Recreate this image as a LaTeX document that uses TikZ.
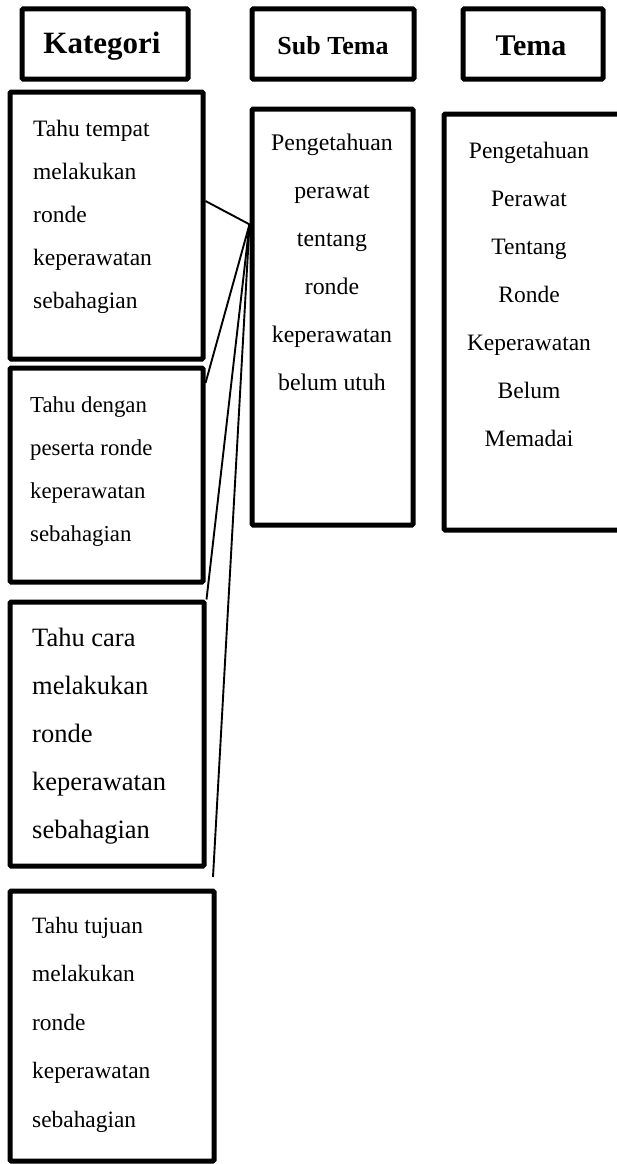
\documentclass[tikz,border=0pt]{standalone}
\usepackage{fontspec}
\setmainfont{Liberation Serif}
\usetikzlibrary{calc}
\begin{document}
\begin{tikzpicture}[x=1pt,y=-1pt,
  frame/.style={draw=black, line width=5pt, rounded corners=1.2pt, inner sep=0pt, fill=white},
  head/.style={inner sep=0pt, anchor=base, font=\bfseries\fontsize{#1}{#1}\selectfont},
  body/.style={inner sep=0pt, align=left, anchor=north west},
  cbody/.style={inner sep=0pt, align=center, anchor=north},
  link/.style={draw=black, line width=1.9pt}]
\useasboundingbox (0,0) rectangle (617,1164);
% header boxes
\node[frame, minimum width=166pt, minimum height=70pt] (hK) at (105,44) {};
\node[frame, minimum width=162pt, minimum height=70pt] (hS) at (333,44) {};
\node[frame, minimum width=140pt, minimum height=70pt] (hT) at (533,44) {};
\node[head=31] (tK) at (102,54) {Kategori};
\node[head=26] (tS) at (333,55) {Sub Tema};
\node[head=30] (tT) at (531,56) {Tema};
% category boxes
\node[frame, minimum width=193pt, minimum height=267pt] (b1) at (106.5,225.5) {};
\node[frame, minimum width=193pt, minimum height=214pt] (b2) at (106.5,475) {};
\node[frame, minimum width=194pt, minimum height=264pt] (b3) at (107,734) {};
\node[frame, minimum width=204pt, minimum height=270pt] (b4) at (112,1026) {};
% sub theme and theme boxes
\node[frame, minimum width=161pt, minimum height=416pt] (sC) at (332.5,317) {};
\node[frame, minimum width=176pt, minimum height=416pt] (tC) at (532,322) {};
% texts
\node[body, font=\fontsize{23.5}{43}\selectfont] (x1) at (33,{136-0.7*43})
  {\strut Tahu tempat\\melakukan\\ronde\\keperawatan\\sebahagian};
\node[body, font=\fontsize{22.8}{43}\selectfont] (x2) at (30,{412-0.7*43})
  {\strut Tahu dengan\\peserta ronde\\keperawatan\\sebahagian};
\node[body, font=\fontsize{26.5}{48}\selectfont] (x3) at (32,{646-0.7*48})
  {\strut Tahu cara\\melakukan\\ronde\\keperawatan\\sebahagian};
\node[body, font=\fontsize{23.4}{48.5}\selectfont] (x4) at (32,{933-0.7*48.5})
  {\strut Tahu tujuan\\melakukan\\ronde\\keperawatan\\sebahagian};
\node[cbody, font=\fontsize{23.8}{48}\selectfont] (xs) at (332,{150-0.7*48})
  {\strut Pengetahuan\\perawat\\tentang\\ronde\\keperawatan\\belum utuh};
\node[cbody, font=\fontsize{23.5}{48}\selectfont] (xt) at (529,{158-0.7*48})
  {\strut Pengetahuan\\Perawat\\Tentang\\Ronde\\Keperawatan\\Belum\\Memadai};
% connectors
\coordinate (J) at ($(sC.north west)!0.28!(sC.south west)$);
\coordinate (e4) at (213,877);
\draw[link] ($(b1.north east)!0.41!(b1.south east)$) -- (J);
\draw[link] ($(b2.north east)!0.08!(b2.south east)$) -- (J);
\draw[link] (b3.north east) -- (J);
\draw[link] (e4) -- (J);
\end{tikzpicture}
\end{document}
